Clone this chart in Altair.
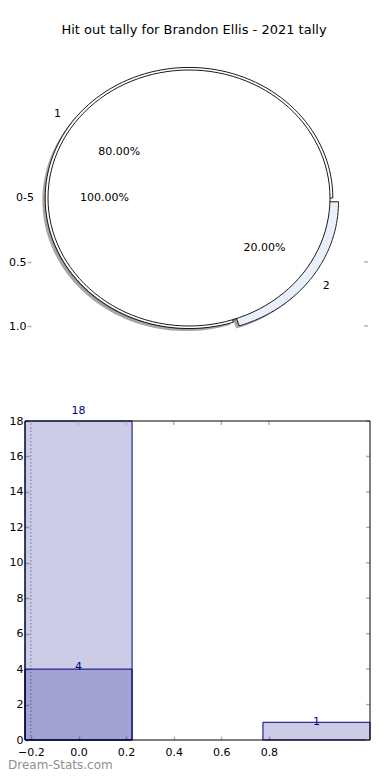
import altair as alt
import pandas as pd

# ---------------- data ----------------
chart_title = "Hit out tally for Brandon Ellis - 2021 tally"
watermark = "Dream-Stats.com"

outer_labels = ["1", "2"]
outer_values = [4, 1]
outer_explode = [0.0, 0.05]
outer_colors = ["#ffffff", "#eaf0fb"]

inner_labels = ["0-5"]
inner_values = [5]
inner_explode = [0.0]
inner_colors = ["#ffffff"]

pie_ytick_values = [-0.5, -1.0]

bar_positions = [0, 1]
bar_values = [18, 1]
overlay_positions = [0]
overlay_values = [4]

bar_xtick_values = [-0.2, 0.0, 0.2, 0.4, 0.6, 0.8]
bar_ytick_values = [0, 2, 4, 6, 8, 10, 12, 14, 16, 18]
bar_guide_x = [-0.2]

# ---------------- layout / style ----------------
W, H = 374, 764
FONT = "DejaVu Sans"
TICK_COLOR = "#b4b4b4"

PIE_CX, PIE_CY, PIE_RX, PIE_RY = 181, 190, 141, 128
PIE_XDOM = [-1.2, 1.27]
PIE_YDOM = [-1.25, 1.25]
OUTER_R, INNER_R = 1.02, 1.0
N = 120
SHADOW_OFF = -0.02
LABEL_DIST, PCT_DIST = 1.1, 0.6

BAR_L, BAR_R, BAR_T, BAR_B = 17, 362, 413, 732
BAR_XDOM = [-0.225, 1.225]
BAR_YDOM = [0, 18]
BAR_WIDTH = 0.45
LABEL_LIFT = 1.03


def pie_x(field, axis=None):
    return alt.X(field, axis=axis, scale=alt.Scale(
        domain=PIE_XDOM, range=[PIE_CX + PIE_XDOM[0] * PIE_RX, PIE_CX + PIE_XDOM[1] * PIE_RX],
        nice=False, zero=False))


def pie_y(field, axis=None):
    return alt.Y(field, axis=axis, scale=alt.Scale(
        domain=PIE_YDOM, range=[PIE_CY - PIE_YDOM[0] * PIE_RY, PIE_CY - PIE_YDOM[1] * PIE_RY],
        nice=False, zero=False))


def bar_x(field, axis=None):
    return alt.X(field, axis=axis, scale=alt.Scale(domain=BAR_XDOM, range=[BAR_L, BAR_R], nice=False, zero=False))


def bar_y(field, axis=None):
    return alt.Y(field, axis=axis, scale=alt.Scale(domain=BAR_YDOM, range=[BAR_B, BAR_T], nice=False, zero=False))


# ---------------- pie ----------------
rows = []
for i, (l, v, e, c) in enumerate(zip(outer_labels, outer_values, outer_explode, outer_colors)):
    rows.append(dict(ring="outer", i=i, label=l, value=v, explode=e, fill=c, radius=OUTER_R))
for i, (l, v, e, c) in enumerate(zip(inner_labels, inner_values, inner_explode, inner_colors)):
    rows.append(dict(ring="inner", i=i, label=l, value=v, explode=e, fill=c, radius=INNER_R))
pie_df = pd.DataFrame(rows)


def pie_base(ring=None):
    c = alt.Chart(pie_df)
    if ring:
        c = c.transform_filter(f"datum.ring == '{ring}'")
    return (
        c.transform_joinaggregate(total="sum(value)", groupby=["ring"])
        .transform_window(cum="sum(value)", groupby=["ring"], sort=[alt.SortField("i")], frame=[None, 0])
        .transform_calculate(a0="2*PI*(datum.cum-datum.value)/datum.total")
        .transform_calculate(a1="2*PI*datum.cum/datum.total")
        .transform_calculate(frac="datum.value/datum.total")
        .transform_calculate(mid="(datum.a0+datum.a1)/2")
        .transform_calculate(cx="datum.explode*cos(datum.mid)")
        .transform_calculate(cy="datum.explode*sin(datum.mid)")
    )


def wedges(ring, shadow=False, y_axis=None):
    off = SHADOW_OFF if shadow else 0.0
    base = (
        pie_base(ring)
        .transform_calculate(k=f"sequence(-1, {N + 1})")
        .transform_flatten(["k"])
        .transform_calculate(t=f"datum.a0 + (datum.a1-datum.a0)*clamp(datum.k,0,{N})/{N}")
        .transform_calculate(ctr="datum.k < 0 && datum.frac < 1")
        .transform_calculate(px=f"(datum.ctr ? datum.cx : datum.cx + datum.radius*cos(datum.t)) + ({off})")
        .transform_calculate(py=f"(datum.ctr ? datum.cy : datum.cy + datum.radius*sin(datum.t)) + ({off})")
    )
    enc = dict(x=pie_x("px:Q"), y=pie_y("py:Q", y_axis), detail="label:N", order=alt.Order("k:Q"))
    if shadow:
        return base.mark_line(filled=True, interpolate="linear-closed", fill="#4d4d4d",
                              fillOpacity=0.5, strokeOpacity=0, strokeWidth=0).encode(**enc)
    return base.mark_line(filled=True, interpolate="linear-closed", stroke="black",
                          strokeWidth=0.9, strokeJoin="round").encode(
        color=alt.Color("fill:N", scale=None), **enc)


pie_y_axis = alt.Axis(orient="left", values=pie_ytick_values, labelExpr="format(abs(datum.value), '.1f')",
                      offset=-23, tickSize=4, tickColor=TICK_COLOR, tickWidth=1.5, labelPadding=1,
                      domain=False, grid=False, title=None, labelFontSize=11, labelColor="black",
                      labelFont=FONT)


def pie_labels(side):
    cond = "cos(datum.mid) < 0" if side == "right" else "cos(datum.mid) >= 0"
    return (
        pie_base()
        .transform_filter(cond)
        .transform_calculate(lx=f"datum.cx + {LABEL_DIST}*datum.radius*cos(datum.mid)")
        .transform_calculate(ly=f"datum.cy + {LABEL_DIST}*datum.radius*sin(datum.mid)")
        .mark_text(align=side, baseline="middle", font=FONT, fontSize=11, color="black")
        .encode(x=pie_x("lx:Q"), y=pie_y("ly:Q"), text="label:N")
    )


pct_text = (
    pie_base()
    .transform_calculate(lx=f"datum.cx + {PCT_DIST}*datum.radius*cos(datum.mid)")
    .transform_calculate(ly=f"datum.cy + {PCT_DIST}*datum.radius*sin(datum.mid)")
    .transform_calculate(pct="format(datum.frac*100, '.2f') + '%'")
    .mark_text(align="center", baseline="middle", font=FONT, fontSize=11, color="black")
    .encode(x=pie_x("lx:Q"), y=pie_y("ly:Q"), text="pct:N")
)

pie_right_ticks = (
    alt.Chart(pd.DataFrame({"v": pie_ytick_values}))
    .mark_rule(color=TICK_COLOR, strokeWidth=1.5)
    .encode(y=pie_y("v:Q"), x=alt.value(356), x2=alt.value(360))
)

pie_layers = [
    wedges("outer", shadow=True),
    wedges("inner", shadow=True),
    wedges("outer", y_axis=pie_y_axis),
    wedges("inner"),
    pie_labels("right"),
    pie_labels("left"),
    pct_text,
    pie_right_ticks,
]

# ---------------- bars ----------------
bars_df = pd.DataFrame({"pos": bar_positions, "h": bar_values})
overlay_df = pd.DataFrame({"pos": overlay_positions, "h": overlay_values})

bar_x_axis = alt.Axis(orient="bottom", values=bar_xtick_values, format=".1f", offset=(BAR_B - 4) - H,
                      tickSize=4, tickColor=TICK_COLOR, tickWidth=1.5, labelPadding=6, domain=False,
                      grid=False, title=None, labelFontSize=11, labelColor="black", labelFont=FONT,
                      labelFlush=False, labelOverlap=False)
bar_y_axis = alt.Axis(orient="left", values=bar_ytick_values, format="d", offset=-(BAR_L + 4),
                      tickSize=4, tickColor=TICK_COLOR, tickWidth=1.5, labelPadding=2, domain=False,
                      grid=False, title=None, labelFontSize=11, labelColor="black", labelFont=FONT,
                      labelOverlap=False)


def bar_layer(df, x_axis=None, y_axis=None):
    return (
        alt.Chart(df)
        .transform_calculate(x0=f"datum.pos - {BAR_WIDTH}/2", x1=f"datum.pos + {BAR_WIDTH}/2",
                             base=f"{BAR_YDOM[0]}")
        .mark_bar(fill="navy", fillOpacity=0.2, stroke="navy", strokeWidth=1)
        .encode(x=bar_x("x0:Q", x_axis), x2="x1:Q", y=bar_y("h:Q", y_axis), y2="base:Q")
    )


def bar_text(df):
    return (
        alt.Chart(df)
        .transform_calculate(ly=f"datum.h * {LABEL_LIFT}")
        .mark_text(align="center", baseline="middle", font=FONT, fontSize=11, color="navy")
        .encode(x=bar_x("pos:Q"), y=bar_y("ly:Q"), text=alt.Text("h:Q", format="d"))
    )


guide = (
    alt.Chart(pd.DataFrame({"v": bar_guide_x}))
    .transform_calculate(y0=f"{BAR_YDOM[0]}", y1=f"{BAR_YDOM[1]}")
    .mark_rule(color="#a8a8a8", strokeDash=[1.5, 2], strokeWidth=1.2)
    .encode(x=bar_x("v:Q"), y=bar_y("y0:Q"), y2="y1:Q")
)

top_ticks = (
    alt.Chart(pd.DataFrame({"v": bar_xtick_values}))
    .mark_rule(color=TICK_COLOR, strokeWidth=1.5)
    .encode(x=bar_x("v:Q"), y=alt.value(BAR_T), y2=alt.value(BAR_T + 4))
)
right_ticks = (
    alt.Chart(pd.DataFrame({"v": bar_ytick_values}))
    .mark_rule(color=TICK_COLOR, strokeWidth=1.5)
    .encode(y=bar_y("v:Q"), x=alt.value(BAR_R - 4), x2=alt.value(BAR_R))
)

frame = (
    alt.Chart(pd.DataFrame({"x0": [BAR_XDOM[0]], "x1": [BAR_XDOM[1]], "y0": [BAR_YDOM[0]], "y1": [BAR_YDOM[1]]}))
    .mark_rect(fillOpacity=0, stroke="black", strokeWidth=1)
    .encode(x=bar_x("x0:Q"), x2="x1:Q", y=bar_y("y0:Q"), y2="y1:Q")
)

bar_layers = [
    guide,
    bar_layer(bars_df, x_axis=bar_x_axis, y_axis=bar_y_axis),
    bar_layer(overlay_df),
    top_ticks,
    right_ticks,
    frame,
    bar_text(bars_df),
    bar_text(overlay_df),
]

# ---------------- title & watermark ----------------
title_layer = (
    alt.Chart(pd.DataFrame({"t": [chart_title]}))
    .mark_text(align="center", baseline="middle", font=FONT, fontSize=13, color="black")
    .encode(x=alt.value(186), y=alt.value(22), text="t:N")
)
watermark_layer = (
    alt.Chart(pd.DataFrame({"t": [watermark]}))
    .mark_text(align="left", baseline="bottom", font=FONT, fontSize=12, color="#8f8f8f")
    .encode(x=alt.value(0), y=alt.value(H), text="t:N")
)

chart = (
    alt.layer(*pie_layers, *bar_layers, title_layer, watermark_layer)
    .resolve_scale(x="independent", y="independent")
    .properties(width=W, height=H, autosize=alt.AutoSizeParams(type="none"), padding=0)
    .configure(font=FONT)
    .configure_view(strokeWidth=0)
)

chart.save("out.html", embed_options={"renderer": "svg", "actions": False})
